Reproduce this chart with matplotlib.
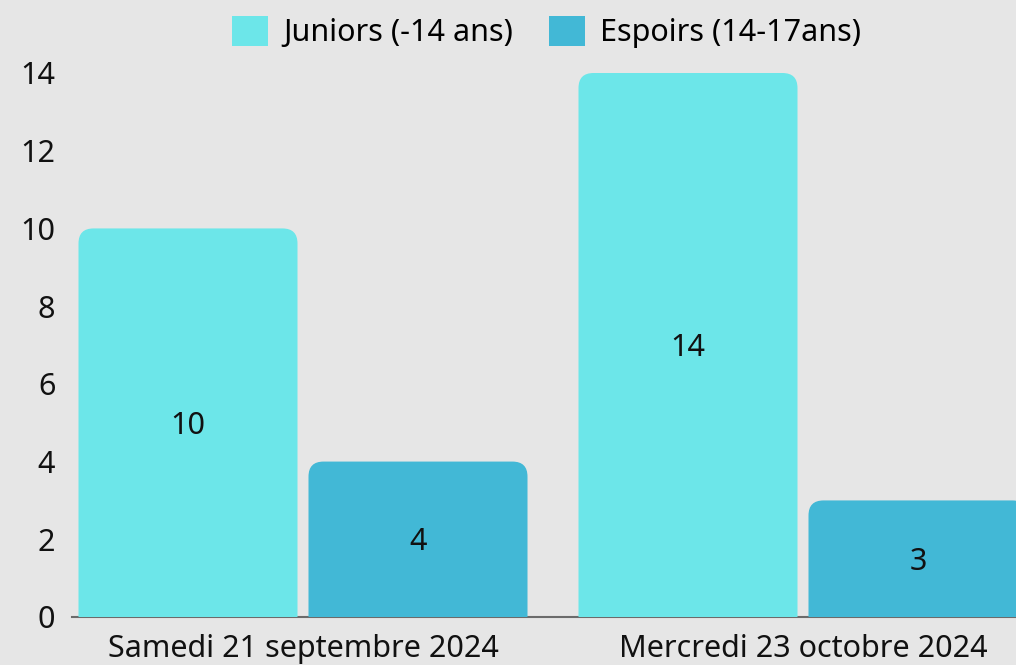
import matplotlib.pyplot as plt
import numpy as np
from matplotlib.patches import FancyBboxPatch, Patch

plt.rcParams['font.family'] = ['Noto Sans', 'DejaVu Sans']

dates = ["Samedi 21 septembre 2024", "Mercredi 23 octobre 2024"]
juniors = [10, 14]
espoirs = [4, 3]
series_labels = ["Juniors (-14 ans)", "Espoirs (14-17ans)"]

bg = '#e6e6e6'
colors = ['#6ce6e9', '#42b8d6']

fig = plt.figure(figsize=(10.16, 6.65), dpi=100, facecolor=bg)
ax = fig.add_axes([72 / 1016, 48 / 665, 1 - 72 / 1016, 544 / 665])
ax.set_facecolor(bg)

x = np.arange(len(dates))
width = 0.438
offset = 0.23

ax.set_xlim(-0.462, 1.426)
ax.set_ylim(0, 14)

# px per data unit, used to keep the corners circular
aspect = (1016 - 72) / (1.426 + 0.462) / (544 / 14)
radius = 0.03

for vals, off, col, lab in [(juniors, -offset, colors[0], series_labels[0]),
                            (espoirs, offset, colors[1], series_labels[1])]:
    rects = ax.bar(x + off, vals, width, color=col, label=lab)
    for r, v in zip(rects, vals):
        r.set_visible(False)
        rx, ry, rw, rh = r.get_x(), r.get_y(), r.get_width(), r.get_height()
        ext = 1.0
        p = FancyBboxPatch((rx, ry - ext), rw, rh + ext,
                           boxstyle=f"round,pad=0,rounding_size={radius}",
                           mutation_aspect=aspect, facecolor=col,
                           edgecolor='none', zorder=1)
        ax.add_patch(p)
        ax.text(rx + rw / 2, v / 2 - 0.08, str(v), ha='center', va='center',
                fontsize=22, color='#111111')

for s in ['top', 'right', 'left']:
    ax.spines[s].set_visible(False)
ax.spines['bottom'].set_color('#6b6b6b')
ax.spines['bottom'].set_linewidth(1.5)
ax.spines['bottom'].set_zorder(0.5)

ax.set_xticks(x, dates)
ax.set_yticks(range(0, 15, 2))
ax.tick_params(axis='x', length=0, labelsize=22, pad=12, colors='#111111')
ax.tick_params(axis='y', length=0, labelsize=22, pad=12, colors='#111111')

handles = [Patch(facecolor=c, edgecolor='none') for c in colors]
fig.legend(handles, series_labels, loc='center', bbox_to_anchor=(0.538, 1 - 32 / 665),
           ncol=2, frameon=False, fontsize=22, handlelength=1.15,
           handleheight=1.15, columnspacing=1.2, handletextpad=0.5,
           borderaxespad=0, borderpad=0)

fig.savefig('out.png', dpi=100, facecolor=bg)
